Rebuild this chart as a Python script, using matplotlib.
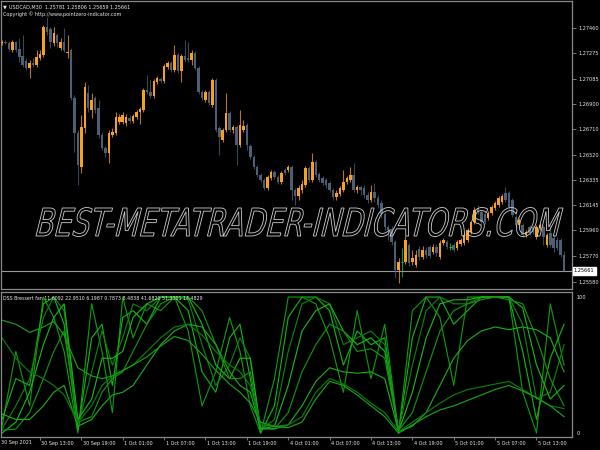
import matplotlib
matplotlib.use("Agg")
import matplotlib.pyplot as plt
import numpy as np
from matplotlib import font_manager
from matplotlib.textpath import TextPath
from matplotlib.patches import PathPatch
from matplotlib.transforms import Affine2D, IdentityTransform
from matplotlib.font_manager import FontProperties

# ---------------- data ----------------
opens = [1.27348, 1.27356, 1.27348, 1.27296, 1.27356, 1.27304, 1.27252, 1.27215, 1.27163, 1.27200,
         1.27185, 1.27237, 1.27259, 1.27467, 1.27452, 1.27348, 1.27408, 1.27311, 1.27356, 1.27274,
         1.27296, 1.26941, 1.26681, 1.26430, 1.26719, 1.26978, 1.26852, 1.26941, 1.26867, 1.26667,
         1.26570, 1.26533, 1.26667, 1.26681, 1.26763, 1.26763, 1.26756, 1.26793, 1.26770, 1.26800,
         1.26837, 1.26852, 1.27000, 1.26985, 1.26956, 1.27059, 1.27082, 1.27067, 1.27171, 1.27200,
         1.27148, 1.27259, 1.27141, 1.27252, 1.27237, 1.27222, 1.27274, 1.27163, 1.26985, 1.26926,
         1.26985, 1.26889, 1.27074, 1.26719, 1.26630, 1.26704, 1.26830, 1.26704, 1.26726, 1.26593,
         1.26704, 1.26741, 1.26585, 1.26504, 1.26430, 1.26370, 1.26333, 1.26274, 1.26348, 1.26392,
         1.26355, 1.26318, 1.26407, 1.26407, 1.26430, 1.26259, 1.26215, 1.26259, 1.26296, 1.26422,
         1.26333, 1.26467, 1.26378, 1.26348, 1.26333, 1.26311, 1.26259, 1.26207, 1.26229, 1.26259,
         1.26318, 1.26333, 1.26370, 1.26259, 1.26281, 1.26274, 1.26222, 1.26185, 1.26244, 1.26200,
         1.26163, 1.26081, 1.25985, 1.25970, 1.25874, 1.25666, 1.25726, 1.25726, 1.25852, 1.25726,
         1.25703, 1.25822, 1.25763, 1.25814, 1.25837, 1.25800, 1.25837, 1.25763, 1.25866, 1.25874,
         1.25837, 1.25852, 1.25829, 1.25859, 1.25866, 1.25889, 1.25948, 1.26022, 1.26126, 1.26096,
         1.26081, 1.26052, 1.26089, 1.26126, 1.26148, 1.26170, 1.26237, 1.26237, 1.26185, 1.26059,
         1.26000, 1.26000, 1.25926, 1.25985, 1.25985, 1.25911, 1.25978, 1.25985, 1.25852, 1.25940,
         1.25903, 1.25889, 1.25889, 1.25781]
closes = [1.27356, 1.27348, 1.27304, 1.27356, 1.27296, 1.27245, 1.27185, 1.27163, 1.27200, 1.27185,
          1.27245, 1.27267, 1.27467, 1.27430, 1.27356, 1.27422, 1.27348, 1.27356, 1.27296, 1.27282,
          1.26941, 1.26681, 1.26444, 1.26726, 1.27022, 1.26867, 1.26926, 1.26852, 1.26667, 1.26570,
          1.26533, 1.26681, 1.26689, 1.26800, 1.26800, 1.26815, 1.26800, 1.26770, 1.26807, 1.26837,
          1.26859, 1.27000, 1.26985, 1.26956, 1.27067, 1.27089, 1.27067, 1.27178, 1.27200, 1.27148,
          1.27259, 1.27141, 1.27252, 1.27222, 1.27222, 1.27274, 1.27163, 1.26985, 1.26941, 1.26985,
          1.26904, 1.27074, 1.26704, 1.26652, 1.26704, 1.26830, 1.26704, 1.26726, 1.26593, 1.26741,
          1.26733, 1.26593, 1.26504, 1.26430, 1.26370, 1.26333, 1.26274, 1.26355, 1.26392, 1.26355,
          1.26318, 1.26385, 1.26385, 1.26430, 1.26259, 1.26215, 1.26274, 1.26304, 1.26422, 1.26333,
          1.26467, 1.26370, 1.26333, 1.26311, 1.26296, 1.26259, 1.26207, 1.26237, 1.26274, 1.26318,
          1.26348, 1.26370, 1.26259, 1.26281, 1.26259, 1.26222, 1.26185, 1.26244, 1.26200, 1.26148,
          1.26081, 1.25985, 1.25963, 1.25874, 1.25666, 1.25726, 1.25726, 1.25889, 1.25718, 1.25755,
          1.25777, 1.25763, 1.25814, 1.25777, 1.25770, 1.25837, 1.25792, 1.25866, 1.25889, 1.25837,
          1.25837, 1.25814, 1.25874, 1.25889, 1.25926, 1.25963, 1.26022, 1.26111, 1.26096, 1.26022,
          1.26022, 1.26089, 1.26133, 1.26163, 1.26200, 1.26215, 1.26185, 1.26133, 1.26074, 1.26000,
          1.26037, 1.25926, 1.25948, 1.25940, 1.25948, 1.25985, 1.26000, 1.25911, 1.25926, 1.25852,
          1.25829, 1.25829, 1.25777, 1.25661]
highs = [1.27371, 1.27371, 1.27363, 1.27371, 1.27363, 1.27385, 1.27408, 1.27237, 1.27222, 1.27237,
         1.27296, 1.27296, 1.27482, 1.27541, 1.27467, 1.27467, 1.27422, 1.27385, 1.27460, 1.27408,
         1.27311, 1.26963, 1.26704, 1.26815, 1.27059, 1.27037, 1.26978, 1.26956, 1.26926, 1.26689,
         1.26585, 1.26704, 1.26719, 1.26837, 1.26822, 1.26837, 1.26822, 1.26815, 1.26822, 1.26852,
         1.26874, 1.27015, 1.27111, 1.27074, 1.27082, 1.27104, 1.27096, 1.27193, 1.27215, 1.27215,
         1.27334, 1.27274, 1.27267, 1.27371, 1.27356, 1.27296, 1.27289, 1.27178, 1.27000, 1.27000,
         1.27000, 1.27089, 1.27089, 1.26733, 1.26719, 1.26978, 1.26844, 1.26741, 1.26741, 1.26852,
         1.26778, 1.26756, 1.26600, 1.26518, 1.26444, 1.26385, 1.26348, 1.26370, 1.26407, 1.26407,
         1.26370, 1.26400, 1.26422, 1.26444, 1.26444, 1.26274, 1.26296, 1.26333, 1.26437, 1.26437,
         1.26533, 1.26481, 1.26392, 1.26363, 1.26348, 1.26326, 1.26274, 1.26259, 1.26289, 1.26407,
         1.26363, 1.26430, 1.26459, 1.26296, 1.26296, 1.26296, 1.26244, 1.26296, 1.26311, 1.26222,
         1.26185, 1.26096, 1.26000, 1.25992, 1.25889, 1.25755, 1.25829, 1.25918, 1.25866, 1.25814,
         1.25814, 1.25844, 1.25844, 1.25837, 1.25852, 1.25859, 1.25859, 1.25889, 1.25903, 1.25889,
         1.25866, 1.25866, 1.25889, 1.25903, 1.25948, 1.25978, 1.26037, 1.26133, 1.26148, 1.26111,
         1.26103, 1.26103, 1.26148, 1.26178, 1.26215, 1.26229, 1.26281, 1.26252, 1.26200, 1.26074,
         1.26052, 1.26015, 1.25963, 1.26000, 1.26000, 1.26000, 1.26015, 1.26000, 1.25940, 1.26000,
         1.25926, 1.25911, 1.25903, 1.25806]
lows = [1.27334, 1.27341, 1.27289, 1.27282, 1.27282, 1.27208, 1.27171, 1.27148, 1.27089, 1.27171,
        1.27171, 1.27222, 1.27245, 1.27408, 1.27311, 1.27326, 1.27319, 1.27296, 1.27282, 1.27237,
        1.26926, 1.26541, 1.26296, 1.26385, 1.26681, 1.26837, 1.26793, 1.26830, 1.26644, 1.26555,
        1.26504, 1.26459, 1.26652, 1.26667, 1.26748, 1.26748, 1.26733, 1.26756, 1.26756, 1.26785,
        1.26748, 1.26837, 1.26970, 1.26941, 1.26941, 1.27045, 1.27052, 1.27052, 1.27156, 1.27133,
        1.27133, 1.27126, 1.27059, 1.27208, 1.27208, 1.27185, 1.27148, 1.26970, 1.26926, 1.26911,
        1.26889, 1.26874, 1.26689, 1.26518, 1.26615, 1.26689, 1.26689, 1.26681, 1.26444, 1.26578,
        1.26689, 1.26555, 1.26489, 1.26415, 1.26355, 1.26318, 1.26259, 1.26259, 1.26333, 1.26341,
        1.26304, 1.26304, 1.26370, 1.26392, 1.26185, 1.26148, 1.26185, 1.26237, 1.26281, 1.26318,
        1.26318, 1.26355, 1.26318, 1.26296, 1.26274, 1.26244, 1.26185, 1.26185, 1.26215, 1.26244,
        1.26304, 1.26318, 1.26244, 1.26237, 1.26222, 1.26200, 1.26163, 1.26170, 1.26170, 1.26126,
        1.26052, 1.25963, 1.25889, 1.25852, 1.25607, 1.25570, 1.25614, 1.25711, 1.25696, 1.25703,
        1.25689, 1.25740, 1.25748, 1.25755, 1.25755, 1.25785, 1.25770, 1.25748, 1.25852, 1.25822,
        1.25814, 1.25800, 1.25814, 1.25844, 1.25852, 1.25874, 1.25933, 1.26007, 1.26081, 1.26000,
        1.26007, 1.26037, 1.26074, 1.26111, 1.26133, 1.26155, 1.26170, 1.26118, 1.26059, 1.25985,
        1.25985, 1.25911, 1.25911, 1.25926, 1.25933, 1.25896, 1.25963, 1.25852, 1.25837, 1.25837,
        1.25800, 1.25814, 1.25763, 1.25659]

price_ticks = [1.27460, 1.27275, 1.27085, 1.26900, 1.26710, 1.26520, 1.26335,
               1.26145, 1.25960, 1.25770, 1.25580]
time_labels = ["30 Sep 13:00", "30 Sep 19:00", "1 Oct 01:00", "1 Oct 07:00", "1 Oct 13:00",
               "1 Oct 19:00", "4 Oct 01:00", "4 Oct 07:00", "4 Oct 13:00", "4 Oct 19:00",
               "5 Oct 01:00", "5 Oct 07:00", "5 Oct 13:00"]
time_tick_bars = [11, 23, 35, 47, 59, 71, 83, 95, 107, 119, 131, 143, 155]
first_label = "30 Sep 2021"

# DSS Bressert fan (8 lines), sampled at these bars
dss_bars = [0, 4, 8, 12, 15, 18, 22, 26, 29, 32, 35, 38, 42, 46, 50, 54, 58, 62, 66, 69, 72, 75,
            79, 83, 87, 91, 95, 99, 103, 107, 111, 115, 119, 123, 127, 131, 135, 139, 143, 147,
            151, 155, 159, 163]
dss1 = [5, 60, 20, 100, 85, 60, 0, 95, 60, 15, 100, 70, 95, 90, 100, 75, 20, 45, 85, 60, 20, 0,
        40, 100, 100, 95, 70, 30, 90, 40, 80, 0, 90, 100, 85, 35, 100, 100, 100, 100, 30, 0, 95, 50]
dss2 = [10, 40, 35, 95, 100, 80, 2, 70, 80, 35, 85, 90, 80, 100, 100, 90, 45, 30, 70, 80, 40, 0,
        20, 85, 100, 100, 90, 50, 75, 65, 70, 0, 70, 100, 100, 80, 90, 100, 100, 100, 60, 10, 55, 80]
dss3 = [3, 20, 40, 85, 100, 90, 5, 45, 75, 50, 70, 95, 90, 100, 100, 98, 65, 35, 50, 70, 55, 2,
        10, 60, 95, 100, 95, 65, 70, 75, 65, 1, 50, 90, 100, 95, 95, 100, 100, 100, 80, 25, 30, 65]
dss4 = [0, 8, 30, 65, 85, 95, 10, 25, 55, 55, 60, 85, 95, 100, 100, 100, 80, 50, 40, 55, 55, 3,
        5, 35, 75, 90, 95, 75, 65, 70, 60, 1, 30, 70, 95, 98, 98, 100, 100, 100, 92, 50, 25, 35]
dss5 = [2, 3, 15, 40, 60, 75, 8, 12, 30, 40, 45, 60, 80, 95, 100, 100, 90, 65, 40, 40, 45, 4,
        3, 15, 45, 65, 80, 75, 60, 62, 55, 2, 15, 45, 75, 90, 95, 98, 100, 98, 95, 70, 40, 20]
dss6 = [14, 10, 10, 20, 30, 35, 5, 10, 20, 28, 30, 35, 50, 65, 75, 80, 78, 65, 45, 35, 30, 3,
        3, 6, 20, 38, 48, 45, 44, 45, 40, 1, 5, 15, 35, 55, 68, 75, 78, 76, 78, 76, 70, 45]
dss7 = [70, 55, 45, 40, 35, 28, 8, 20, 35, 42, 46, 50, 60, 70, 78, 80, 72, 60, 50, 45, 35, 6,
        5, 6, 12, 30, 40, 36, 30, 22, 15, 1, 8, 15, 22, 28, 32, 34, 36, 38, 32, 26, 20, 18]
dss8 = [83, 80, 74, 78, 82, 72, 48, 42, 40, 42, 46, 50, 56, 64, 71, 68, 58, 46, 36, 30, 22, 8,
        5, 4, 8, 25, 38, 35, 28, 20, 12, 0, 6, 12, 17, 20, 24, 28, 32, 35, 31, 26, 20, 12]
dss_values_label = "DSS Bressert fan 11.6092 22.9510 6.1987 0.7873 8.4838 41.6820 51.3301 14.4829"

# ---------------- style ----------------
names = {f.name for f in font_manager.fontManager.ttflist}
small_font = "DejaVu Sans"
fscale = 0.74
for cand in ["Liberation Sans Narrow", "DejaVu Sans Condensed"]:
    if cand in names:
        small_font = cand
        fscale = 1.0
        break

W, H = 600, 450
fig = plt.figure(figsize=(6, 4.5), dpi=100, facecolor="black")


def fr(x0, y0, x1, y1):
    return [x0 / W, 1 - y1 / H, (x1 - x0) / W, (y1 - y0) / H]


ax = fig.add_axes(fr(1, 1, 572, 289))
ax2 = fig.add_axes(fr(1, 292, 572, 437))
frame = "#8a8a8a"
txt = "#e8e8e8"
for a in (ax, ax2):
    a.set_facecolor("black")
    for s in a.spines.values():
        s.set_color(frame)
        s.set_linewidth(0.9)

xl = (-0.30, 165.3)
n = len(closes)
idx = np.arange(n)
o = np.array(opens); c = np.array(closes); hi = np.array(highs); lo = np.array(lows)
bull = "#f6a21d"
bear = "#4c5f75"
cols = np.where(c > o, bull, np.where(c < o, bear, "#22c522"))
ax.vlines(idx, lo, hi, colors=cols, linewidth=0.8, alpha=0.75, zorder=2)
bodyh = np.abs(c - o)
bodyb = np.minimum(c, o)
mask = bodyh > 0
ax.bar(idx[mask], bodyh[mask], bottom=bodyb[mask], width=0.72, color=cols[mask],
       linewidth=0, zorder=3)
dj = ~mask
ax.hlines(c[dj], idx[dj] - 0.36, idx[dj] + 0.36, colors="#22c522", linewidth=0.8, zorder=3)

ax.axhline(closes[-1], color="#9a9a9a", linewidth=0.8, zorder=1)
ax.set_xlim(*xl)
ax.set_ylim(1.25526, 1.27660)
ax.set_xticks([])
ax.yaxis.tick_right()
ax.set_yticks(price_ticks)
ax.set_yticklabels([f"{p:.5f}" for p in price_ticks], fontsize=4.9 * fscale, color=txt,
                   family=small_font)
ax.tick_params(axis="y", length=3, width=0.6, color=frame, pad=1.5)
ax.text(1.0035, closes[-1], f"{closes[-1]:.5f}", transform=ax.get_yaxis_transform(),
        fontsize=4.9 * fscale, family=small_font, color="black", va="center", ha="left",
        bbox=dict(facecolor="white", edgecolor="white", pad=0.9), clip_on=False, zorder=5)

# indicator
dss_lines = [dss1, dss2, dss3, dss4, dss5, dss6, dss7, dss8]
dss_colors = ["#0e960e", "#12b012", "#0c800c", "#19b419", "#0f920f", "#1aa81a", "#0b7c0b", "#17a017"]
for vals, col in zip(dss_lines, dss_colors):
    ax2.plot(dss_bars, vals, color=col, linewidth=0.85, zorder=2)
ax2.set_xlim(*xl)
ax2.set_ylim(-2.9, 103.7)
ax2.yaxis.tick_right()
ax2.set_yticks([0, 100])
ax2.set_yticklabels(["0", "100"], fontsize=4.9 * fscale, color=txt, family=small_font)
ax2.tick_params(axis="y", length=0, pad=3)
ax2.set_xticks(time_tick_bars)
ax2.set_xticklabels(time_labels, fontsize=4.7 * fscale, color=txt, family=small_font, ha="left")
ax2.tick_params(axis="x", length=2.5, width=0.6, color=frame, pad=0.3)
for lab in ax2.get_xticklabels():
    lab.set_transform(lab.get_transform() + Affine2D().translate(1.5, 0))
ax2.text(0.0, -0.022, first_label, transform=ax2.transAxes, fontsize=4.7 * fscale,
         color=txt, family=small_font, ha="left", va="top")
ax2.text(0.004, 0.955, dss_values_label, transform=ax2.transAxes, fontsize=4.6 * fscale,
         color=txt, family=small_font, ha="left", va="center", zorder=5)

# header texts
fig.text(3 / W, 1 - 7 / H, "\u25bc", fontsize=3.6, color=txt, va="center", ha="left")
fig.text(9 / W, 1 - 7 / H, "USDCAD,M30  1.25781 1.25806 1.25659 1.25661",
         fontsize=4.8 * fscale, color=txt, family=small_font, va="center", ha="left")
fig.text(3 / W, 1 - 14.5 / H, "Copyright \u00a9 http://www.pointzero-indicator.com",
         fontsize=4.8 * fscale, color=txt, family=small_font, va="center", ha="left")

# watermark
wm = "BEST-METATRADER-INDICATORS.COM"
tp = TextPath((0, 0), wm, size=10, prop=FontProperties(family="DejaVu Sans"))
ext = tp.get_extents()
cap_h = 28.0
shear = np.tan(np.radians(14)) * cap_h
sx = (527.0 - shear) / ext.width
sy = cap_h / 7.29
tr = (Affine2D().translate(-ext.x0, 0).scale(sx, sy).skew_deg(14, 0)
      .translate(36, H - 236))
patch = PathPatch(tr.transform_path(tp), transform=IdentityTransform(), facecolor="none",
                  edgecolor="#cfcfcf", linewidth=0.6, zorder=10)
fig.add_artist(patch)

fig.savefig("out.png", dpi=100, facecolor="black")
